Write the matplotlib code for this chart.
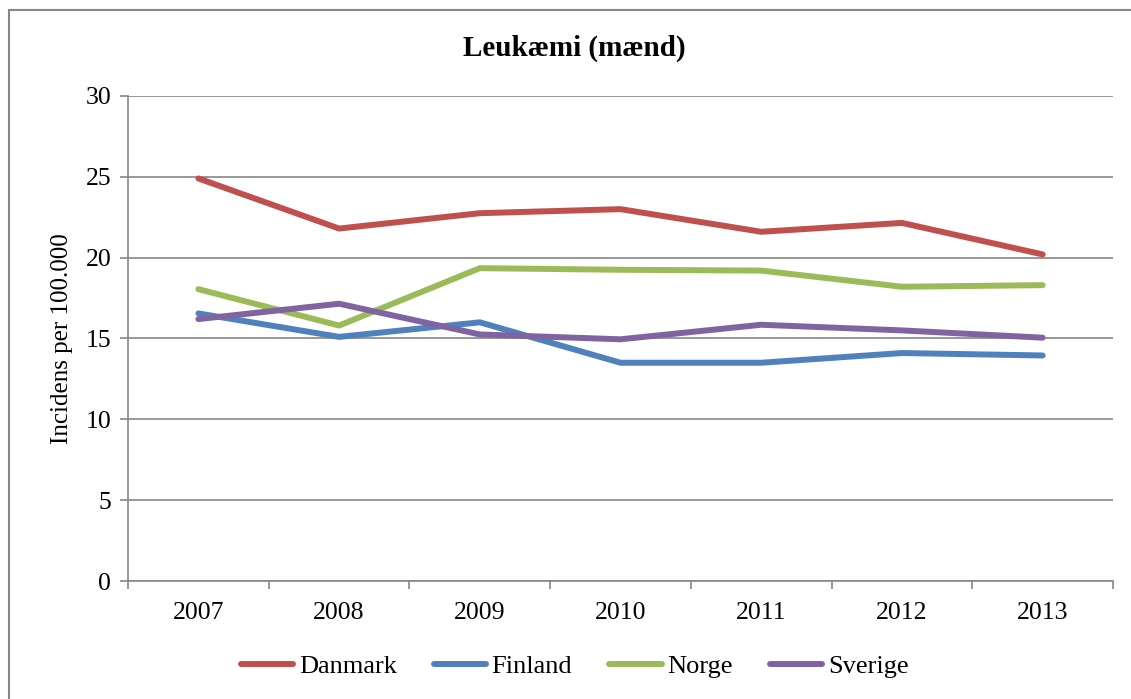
import matplotlib
matplotlib.use("Agg")
import matplotlib.pyplot as plt
from matplotlib.lines import Line2D

# data
years = ["2007", "2008", "2009", "2010", "2011", "2012", "2013"]
danmark = [24.9, 21.8, 22.75, 23.0, 21.6, 22.15, 20.2]
finland = [16.55, 15.1, 16.0, 13.5, 13.5, 14.1, 13.95]
norge = [18.05, 15.8, 19.35, 19.25, 19.2, 18.2, 18.3]
sverige = [16.2, 17.15, 15.25, 14.95, 15.85, 15.5, 15.05]

series_names = ["Danmark", "Finland", "Norge", "Sverige"]
colors = ["#C0504D", "#4F81BD", "#9BBB59", "#8064A2"]
grid_col = "#868686"

plt.rcParams["font.family"] = ["Liberation Serif", "DejaVu Serif"]

fig = plt.figure(figsize=(11.31, 6.99), dpi=100)
ax = fig.add_axes([0.1132, 0.1688, 0.8709, 0.6939])

# outer chart frame (only top and left edges are visible, the rest is cropped)
fx, fy = 8.5 / 1131, 1 - 9.5 / 699
fig.add_artist(Line2D([fx, 1.0], [fy, fy], transform=fig.transFigure,
                      color=grid_col, linewidth=1.5))
fig.add_artist(Line2D([fx, fx], [0.0, fy], transform=fig.transFigure,
                      color=grid_col, linewidth=1.5))

x = list(range(len(years)))
for name, vals, col in zip(series_names, [danmark, finland, norge, sverige], colors):
    ax.plot(x, vals, color=col, linewidth=4.3, solid_capstyle="round",
            solid_joinstyle="round", label=name, zorder=3)

# axes
ax.set_ylim(0, 30)
ax.set_yticks(range(0, 31, 5))
ax.set_xlim(-0.5, len(years) - 0.5)
ax.set_xticks(x)
ax.set_xticklabels(years)
ax.set_xticks([i - 0.5 for i in range(len(years) + 1)], minor=True)
ax.tick_params(axis="x", which="major", length=0, pad=15, labelsize=18.5)
ax.tick_params(axis="x", which="minor", length=6, color=grid_col, width=1.2)
ax.tick_params(axis="y", length=6, color=grid_col, width=1.2, labelsize=18.5, pad=6)

ax.grid(axis="y", color=grid_col, linewidth=1.2, zorder=0)
for side in ["top", "right"]:
    ax.spines[side].set_visible(False)
for side in ["left", "bottom"]:
    ax.spines[side].set_color(grid_col)
    ax.spines[side].set_linewidth(1.2)

ax.set_ylabel("Incidens per 100.000", fontsize=18, labelpad=9)
fig.text(0.508, 1 - 48 / 699, "Leukæmi (mænd)", fontsize=21, fontweight="bold",
         ha="center", va="center")

fig.legend(*ax.get_legend_handles_labels(), loc="center",
           bbox_to_anchor=(0.508, 1 - 666 / 699), ncol=4, frameon=False,
           fontsize=19, handlelength=2.0, handletextpad=0.2, columnspacing=1.4)

fig.savefig("out.png", dpi=100)
